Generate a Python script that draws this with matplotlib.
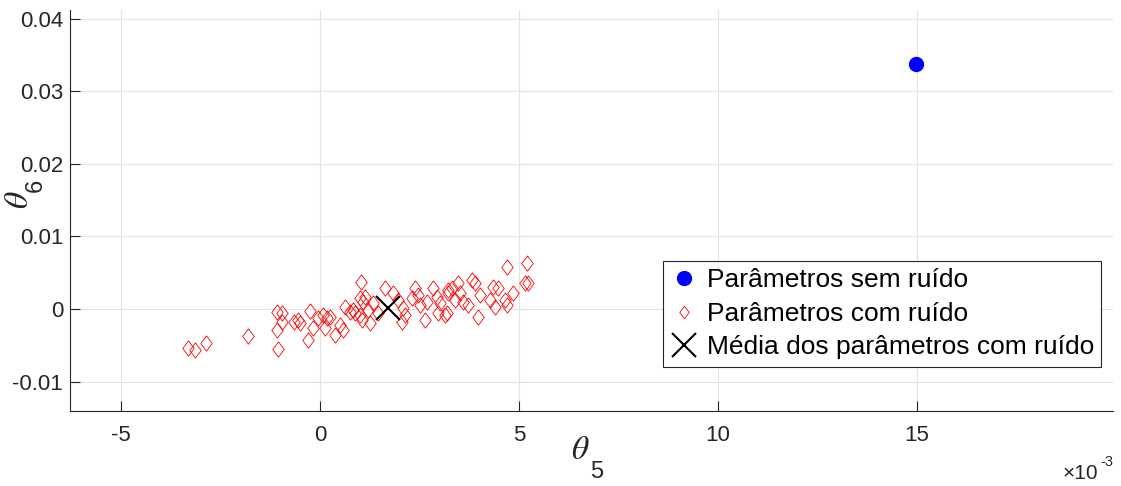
import matplotlib
matplotlib.use("Agg")
import matplotlib.pyplot as plt
from matplotlib.lines import Line2D
import numpy as np

# Data (theta5 in units of 1e-3, theta6 in units of 1e-3)
theta5_noisy_e3 = [-3.31, -3.14, -2.86, -1.80, -1.07, -0.95, -1.09, -0.96, -1.06, -0.65,
                   -0.55, -0.50, -0.25, -0.29, -0.17, -0.04, 0.08, 0.17, 0.13, 0.25,
                   0.38, 0.50, 0.59, 0.63, 0.75, 0.88, 1.01, 1.03, 1.05, 1.08,
                   1.13, 1.01, 1.21, 1.26, 1.34, 1.46, 1.63, 1.84, 1.97, 2.09,
                   2.14, 2.30, 2.39, 2.47, 2.51, 2.64, 2.68, 2.85, 2.93, 2.97,
                   3.02, 3.14, 3.22, 3.31, 3.22, 3.18, 3.47, 3.52, 3.60, 3.73,
                   3.81, 3.89, 4.02, 3.98, 4.27, 4.35, 4.48, 4.40, 4.65, 4.69,
                   4.86, 4.69, 5.19, 5.15, 5.22, 2.06, 0.83, 3.39]
theta6_noisy_e3 = [-5.33, -5.65, -4.64, -3.68, -0.37, -0.59, -2.89, -1.75, -5.55, -1.75,
                   -1.52, -1.93, -0.23, -4.27, -2.66, -1.28, -0.83, -1.28, -2.66, -1.06,
                   -3.58, -2.20, -2.89, 0.32, -0.37, -0.59, 1.47, 3.76, -1.52, 1.01,
                   1.69, -0.83, -0.14, -1.97, 0.79, -0.59, 2.85, 2.16, 1.24, 0.10,
                   -0.83, 1.47, 2.85, 1.93, 0.55, -1.52, 1.01, 2.85, 1.69, -0.59,
                   0.79, -0.83, 2.16, 2.85, 2.62, -0.59, 3.54, 2.16, 1.01, 0.55,
                   3.99, 3.54, 1.93, -1.06, 1.24, 3.07, 2.85, 0.32, 1.24, 0.55,
                   2.16, 5.83, 6.29, 3.54, 3.62, -1.79, -0.14, 1.24]

theta5_true_e3 = [14.97]
theta6_true = [0.0337]

theta5_mean_e3 = [1.71]
theta6_mean = [0.0001]

xticks = [-5, 0, 5, 10, 15]
yticks = [-0.01, 0, 0.01, 0.02, 0.03, 0.04]
ytick_labels = ["-0.01", "0", "0.01", "0.02", "0.03", "0.04"]

legend_labels = ["Parâmetros sem ruído", "Parâmetros com ruído",
                 "Média dos parâmetros com ruído"]

plt.rcParams['font.family'] = ['Liberation Sans', 'DejaVu Sans']

W, H = 1121, 486
fig = plt.figure(figsize=(W / 100, H / 100), dpi=100)
ax = fig.add_axes([70 / W, 1 - 411 / H, (1113 - 70) / W, (411 - 10) / H])

axcol = '#262626'
diamond = [(0, 1), (0.75, 0), (0, -1), (-0.75, 0), (0, 1)]

ax.plot(theta5_true_e3, theta6_true, linestyle='none', marker='o',
        markersize=10, color='#0000ff', zorder=3)
ax.plot(theta5_noisy_e3, np.array(theta6_noisy_e3) * 1e-3, linestyle='none',
        marker=diamond, markersize=11, markerfacecolor='none',
        markeredgecolor='#ff0000', markeredgewidth=0.6, zorder=3)
ax.plot(theta5_mean_e3, theta6_mean, linestyle='none', marker='x',
        markersize=17, color='black', markeredgewidth=1.5, zorder=4)

ax.set_xlim(-6.28, 19.92)
ax.set_ylim(-0.01405, 0.04118)
ax.set_xticks(xticks)
ax.set_xticklabels([str(t) for t in xticks])
ax.set_yticks(yticks)
ax.set_yticklabels(ytick_labels)

ax.grid(True, color='#e3e3e3', linewidth=0.8)
ax.set_axisbelow(True)
for s in ['top', 'right']:
    ax.spines[s].set_visible(False)
for s in ['left', 'bottom']:
    ax.spines[s].set_color(axcol)
    ax.spines[s].set_linewidth(0.8)
ax.tick_params(axis='both', direction='in', length=7, width=0.8, colors=axcol,
               labelsize=16, labelcolor=axcol)
ax.tick_params(axis='x', pad=10)
ax.tick_params(axis='y', pad=5)

# axis labels (MATLAB style: theta with large subscript)
fig.text(580.5 / W, 1 - 450.5 / H, r'$\theta$', fontsize=24, ha='center', va='center',
         color=axcol, math_fontfamily='stix')
fig.text(597 / W, 1 - 471.5 / H, '5', fontsize=17, ha='center', va='center', color=axcol)
fig.text(19.5 / W, 1 - 200 / H, r'$\theta$', fontsize=24, ha='center', va='center',
         color=axcol, rotation=90, math_fontfamily='stix')
fig.text(36 / W, 1 - 185 / H, '6', fontsize=17, ha='center', va='center',
         color=axcol, rotation=90)

# exponent
fig.text(1063 / W, 1 - 473 / H, '×10', fontsize=15, ha='left', va='center', color=axcol)
fig.text(1100 / W, 1 - 462 / H, '-3', fontsize=10.5, ha='left', va='center', color=axcol)

handles = [
    Line2D([], [], linestyle='none', marker='o', markersize=10, color='#0000ff'),
    Line2D([], [], linestyle='none', marker=diamond, markersize=9,
           markerfacecolor='none', markeredgecolor='#ff0000', markeredgewidth=0.6),
    Line2D([], [], linestyle='none', marker='x', markersize=17, color='black',
           markeredgewidth=1.5),
]
leg = fig.legend(handles, legend_labels, loc='upper left',
                 bbox_to_anchor=(663 / W, 1 - 261 / H), bbox_transform=fig.transFigure,
                 borderaxespad=0, fontsize=19, frameon=True, fancybox=False,
                 framealpha=1, edgecolor=axcol, handlelength=1.0, handletextpad=0.38,
                 borderpad=0.28, labelspacing=0.36)
leg.get_frame().set_linewidth(0.8)
for t in leg.get_texts():
    t.set_color('black')

fig.savefig('out.png', dpi=100)
